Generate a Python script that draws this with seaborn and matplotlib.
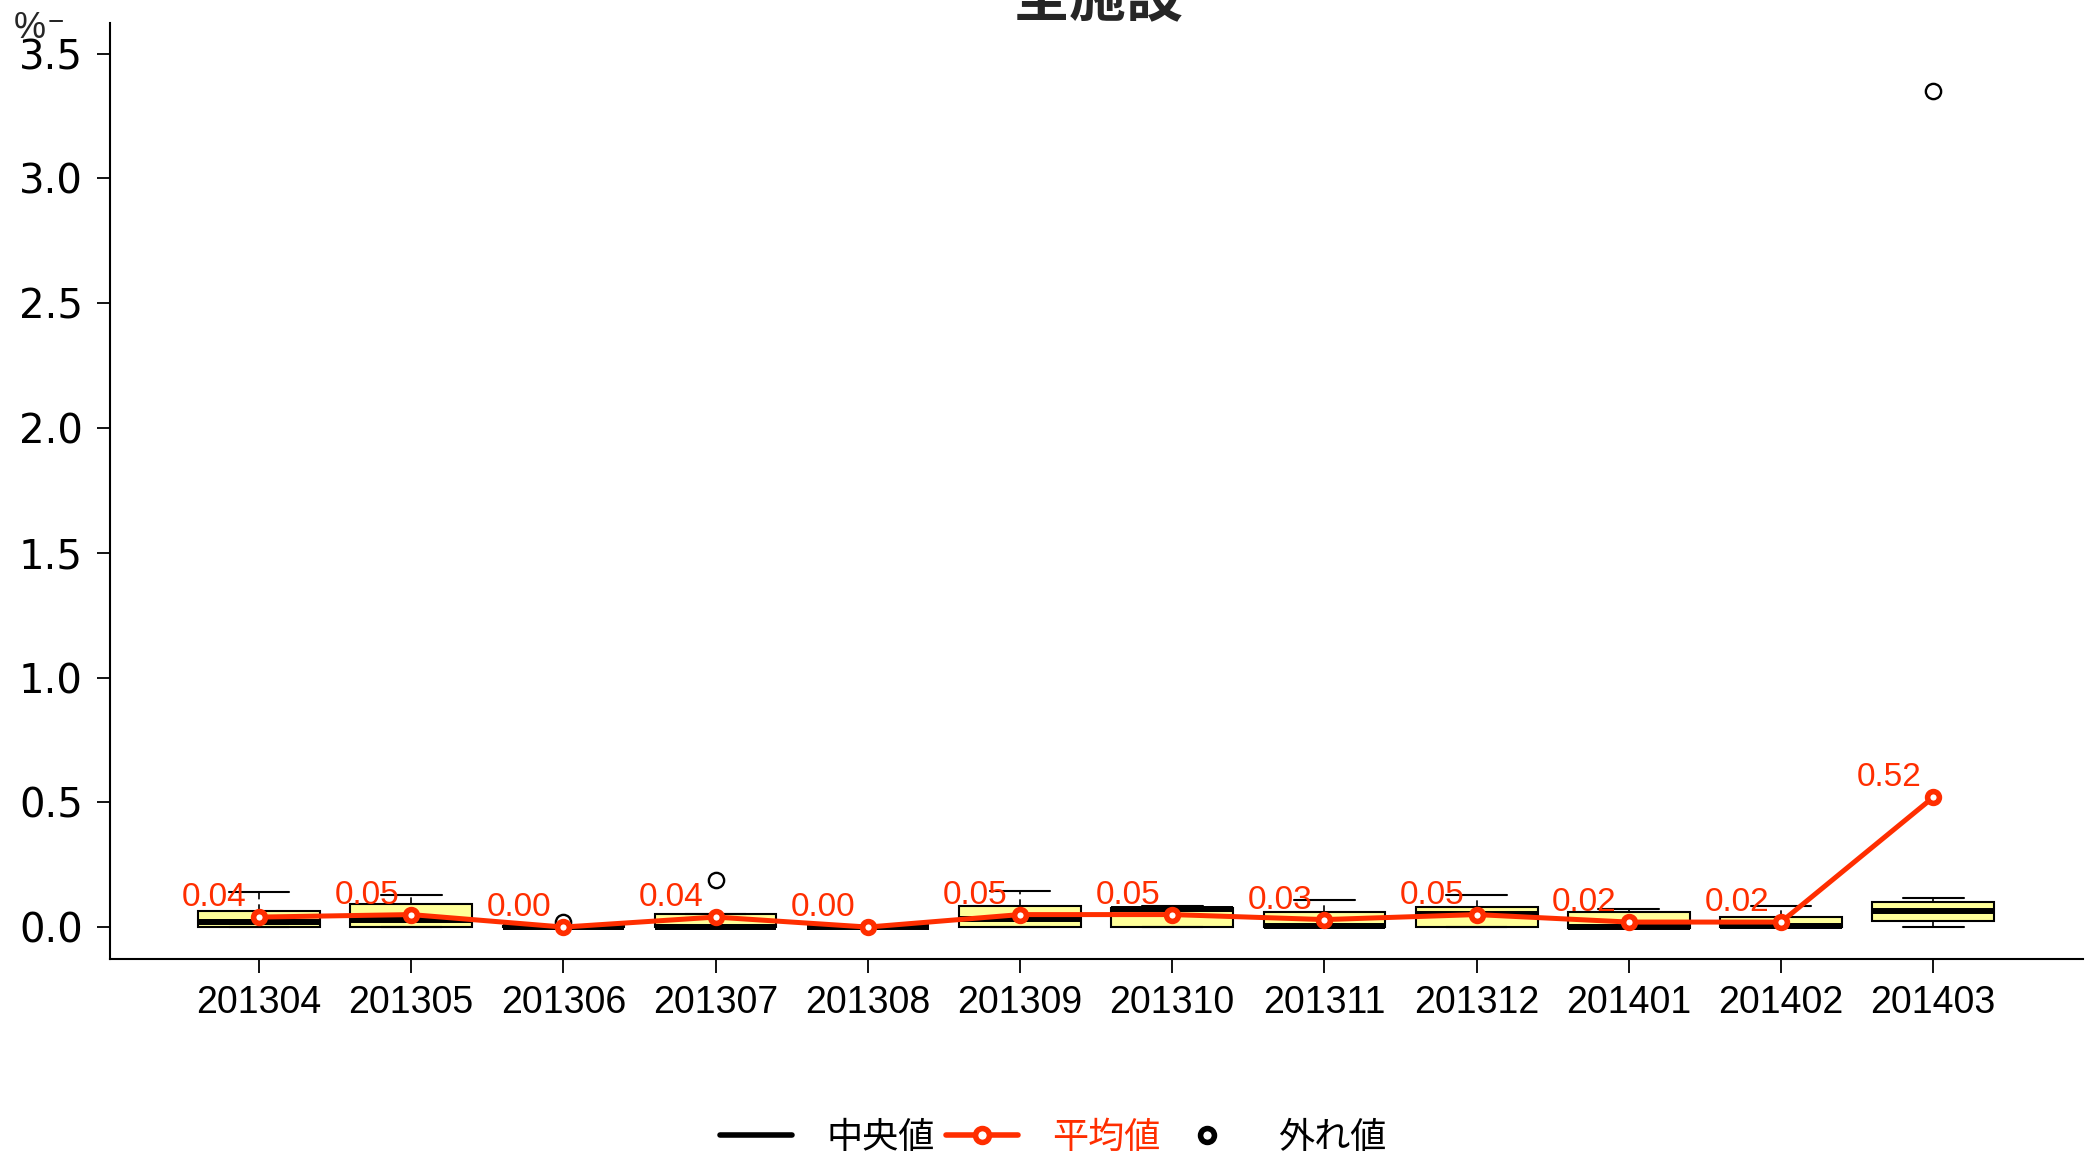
import numpy as np
import matplotlib
matplotlib.use("Agg")
import matplotlib.pyplot as plt
from matplotlib.lines import Line2D
import seaborn as sns

# Monthly distribution summary (%)
months = ["201304", "201305", "201306", "201307", "201308", "201309",
          "201310", "201311", "201312", "201401", "201402", "201403"]
q1 = [0.0, 0.0, 0.0, 0.0, 0.0, 0.0, 0.0, 0.0, 0.0, -0.005, 0.0, 0.025]
medians = [0.02, 0.03, 0.0, 0.0, 0.0, 0.032, 0.072, 0.005, 0.052, 0.0, 0.003, 0.065]
q3 = [0.065, 0.092, 0.003, 0.052, 0.0, 0.084, 0.076, 0.061, 0.081, 0.06, 0.04, 0.101]
whisker_low = [0.0, 0.0, 0.0, 0.0, 0.0, 0.0, 0.0, 0.0, 0.0, -0.005, 0.0, 0.0]
whisker_high = [0.14, 0.13, 0.003, 0.052, 0.0, 0.145, 0.084, 0.108, 0.13, 0.072, 0.085, 0.117]
outliers = [[], [], [0.022], [0.19], [], [], [], [], [], [], [], [3.35]]
means = [0.04, 0.05, 0.00, 0.04, 0.00, 0.05, 0.05, 0.03, 0.05, 0.02, 0.02, 0.52]
yticks = [0.0, 0.5, 1.0, 1.5, 2.0, 2.5, 3.0, 3.5]

RED = "#FF2E00"
BOX_FILL = "#FFFF99"

sns.set_theme(style="ticks")
plt.rcParams["font.family"] = ["Liberation Sans", "Noto Sans CJK JP", "DejaVu Sans"]

fig = plt.figure(figsize=(20.93, 11.56), dpi=100)
ax = fig.add_axes([110 / 2093, 1 - 959 / 1156, (2083 - 110) / 2093, (959 - 23) / 1156])

pos = np.arange(len(months))
stats = [
    dict(q1=a, med=m, q3=b, whislo=lo, whishi=hi, fliers=f)
    for a, m, b, lo, hi, f in zip(q1, medians, q3, whisker_low, whisker_high, outliers)
]
ax.bxp(
    stats, positions=pos, widths=0.8, capwidths=0.4, patch_artist=True,
    manage_ticks=False,
    boxprops=dict(facecolor=BOX_FILL, edgecolor="black", linewidth=1.5),
    medianprops=dict(color="black", linewidth=4.3, solid_capstyle="butt"),
    whiskerprops=dict(color="black", linewidth=1.2, linestyle=(0, (4, 3))),
    capprops=dict(color="black", linewidth=1.5),
    flierprops=dict(marker="o", markerfacecolor="none", markeredgecolor="black",
                    markersize=11, markeredgewidth=1.7),
)

# Mean line with value labels
sns.lineplot(x=pos, y=means, ax=ax, color=RED, linewidth=3.6, marker="o",
             markersize=8.5, markerfacecolor="white", markeredgecolor=RED,
             markeredgewidth=4, zorder=5, legend=False)
for i, m in enumerate(means):
    ax.annotate(f"{m:.2f}", (pos[i], m), xytext=(-32, 14),
                textcoords="offset points", ha="center", va="center",
                color=RED, fontsize=24, family="Liberation Sans", zorder=6)

ax.set_xlim(-0.979, 11.984)
ax.set_ylim(-0.128, 3.623)
ax.set_xticks(pos)
ax.set_xticklabels(months, fontsize=27, family="Liberation Sans")
ax.set_yticks(yticks)
ax.set_yticklabels([f"{t:.1f}" for t in yticks], fontsize=29, family="DejaVu Sans")
ax.tick_params(axis="x", length=10, width=1.3, pad=9, colors="black")
ax.tick_params(axis="y", length=9.5, width=1.3, pad=10, colors="black")
ax.set_xlabel("")
ax.set_ylabel("")
sns.despine(ax=ax)
for s in ("left", "bottom"):
    ax.spines[s].set_linewidth(1.5)
    ax.spines[s].set_color("black")
ax.grid(False)

# Title and unit
fig.text(1098 / 2093, 1 - 16 / 1156, "全施設", ha="center", va="baseline",
         fontsize=41, fontweight="bold", family=["Noto Sans CJK JP"])
fig.text(14 / 2093, 1 - 28 / 1156, "%", ha="left", va="center", fontsize=26,
         family=["Liberation Sans"])
fig.text(48 / 2093, 1 - 23 / 1156, "−", ha="left", va="center", fontsize=20,
         family=["Liberation Sans"])

# Legend
handles = [
    Line2D([], [], color="black", linewidth=4, solid_capstyle="round"),
    Line2D([], [], color=RED, linewidth=4, marker="o", markersize=10,
           markerfacecolor="white", markeredgecolor=RED, markeredgewidth=4),
    Line2D([], [], linestyle="none", marker="o", markersize=10,
           markerfacecolor="white", markeredgecolor="black", markeredgewidth=4),
]
fig.legend(handles, ["中央値", "平均値", "外れ値"], loc="center",
           bbox_to_anchor=(1053 / 2093, 1 - 1138 / 1156), ncol=3, frameon=False,
           prop=dict(family="Noto Sans CJK JP", size=26),
           labelcolor=["black", RED, "black"], handlelength=2.0,
           handletextpad=0.95, columnspacing=0.3, borderpad=0)

fig.savefig("out.png", dpi=100)
